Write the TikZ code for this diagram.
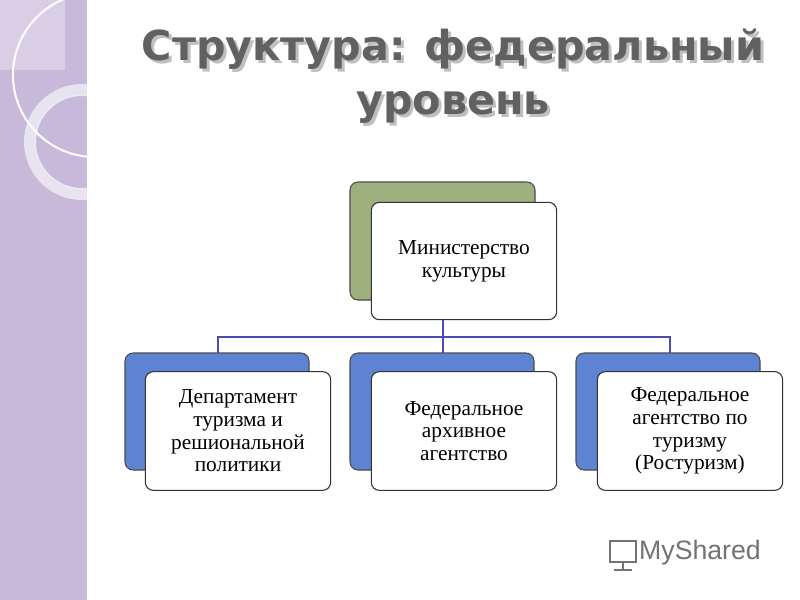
\documentclass[tikz,border=0pt]{standalone}
\usepackage{fontspec}
\setmainfont{Liberation Serif}
\newfontfamily\titlefont{DejaVu Sans}
\newfontfamily\logofont{Liberation Sans}
\definecolor{strip}{HTML}{C6B9D9}
\definecolor{stripl}{HTML}{D8CFE6}
\definecolor{olive}{HTML}{9DB07D}
\definecolor{blu}{HTML}{5E83D3}
\begin{document}
\begin{tikzpicture}[x=0.75pt,y=-0.75pt,
 back/.style={draw=black!70,rounded corners=6pt,line width=0.8pt},
 front/.style={draw=black!80,fill=white,rounded corners=6pt,line width=0.8pt,align=center,font=\fontsize{16}{17}\selectfont},
 conn/.style={draw=blue!40!gray,line width=1pt}]
\useasboundingbox (0,0) rectangle (800,600);
\fill[white] (0,0) rectangle (800,600);
\fill[strip] (0,0) rectangle (88,600);
\begin{scope}
\clip (0,0) rectangle (88,600);
\fill[stripl] (0,0) rectangle (65,70);
\draw[white!60!strip,line width=9pt] (82,142) circle[radius=52];
\draw[white!70!strip,line width=1pt] (82,142) circle[radius=47];
\draw[white,line width=1.5pt] (95,75) circle[radius=82];
\end{scope}
\draw[white,line width=1.5pt] (88,0) -- (88,600);
\node[font=\titlefont\bfseries\fontsize{31}{40}\selectfont,text=black!25,align=center] at (456,79) {Структура: федеральный\\уровень};
\node[font=\titlefont\bfseries\fontsize{31}{40}\selectfont,text=black!62,align=center] (title) at (453,76) {Структура: федеральный\\уровень};
\draw[back,fill=olive] (350,182) rectangle (535,300);
\node[front,minimum width=139pt,minimum height=88pt] (m) at (464,261) {Министерство\\культуры};
\foreach \x in {125,350,576}{
 \draw[back,fill=blu] (\x,353) rectangle (\x+184,470);}
\node[front,minimum width=139pt,minimum height=89pt] (d1) at (238,431) {Департамент\\туризма и\\решиональной\\политики};
\node[front,minimum width=139pt,minimum height=89pt] (d2) at (464,431) {Федеральное\\архивное\\агентство};
\node[front,minimum width=139pt,minimum height=89pt] (d3) at (690,431) {Федеральное\\агентство по\\туризму\\(Ростуризм)};
\coordinate (j) at (443,337);
\draw[conn] (m.south -| j) -- (j);
\draw[conn] (218,353) -- (218,337) -- (670,337) -- (670,353);
\draw[conn] (443,337) -- (443,353);
\node[font=\logofont\fontsize{20}{22}\selectfont,text=black!55] (logo) at (700,553) {MyShared};
\draw[black!55,line width=2pt] (610,541) rectangle (636,562);
\draw[black!55,line width=2pt] (623,562) -- (623,570) (614,570) -- (632,570);
\end{tikzpicture}
\end{document}
